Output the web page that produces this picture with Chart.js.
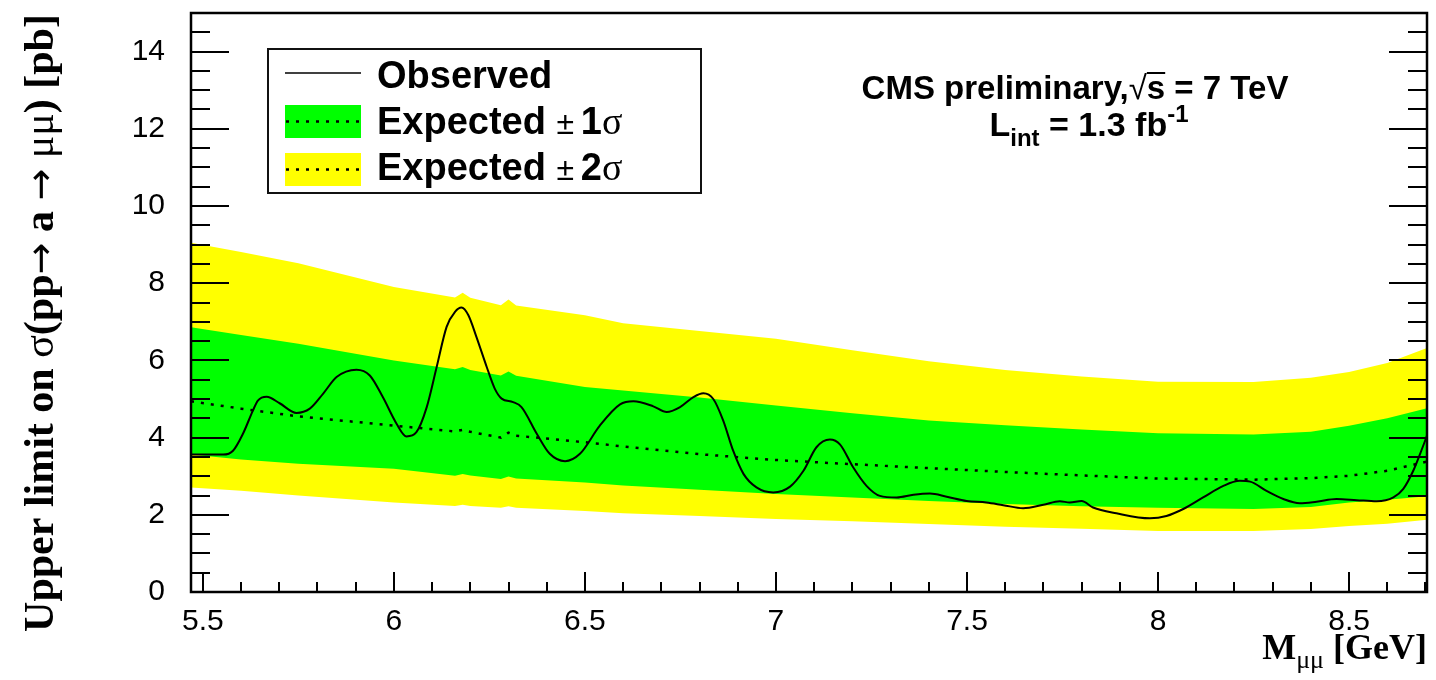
<!DOCTYPE html>
<html>
<head>
<meta charset="utf-8">
<script src="https://cdn.jsdelivr.net/npm/chart.js@4"></script>
<style>
  html, body { margin: 0; padding: 0; background: #fff; }
  #wrap { width: 1436px; height: 680px; }
</style>
</head>
<body>
<div id="wrap"><canvas id="limitChart" width="1436" height="680"></canvas></div>
<script>
const bandX = [5.469, 5.6, 5.75, 6.0, 6.16, 6.18, 6.2, 6.28, 6.3, 6.32, 6.5, 6.6, 6.8, 7.0, 7.2, 7.4, 7.6, 7.8, 8.0, 8.25, 8.4, 8.5, 8.6, 8.704];
const up2 = [9.05, 8.81, 8.52, 7.90, 7.63, 7.75, 7.62, 7.43, 7.58, 7.42, 7.17, 6.96, 6.76, 6.56, 6.26, 5.98, 5.75, 5.58, 5.45, 5.44, 5.55, 5.70, 5.93, 6.32];
const up1 = [6.86, 6.66, 6.43, 6.00, 5.77, 5.83, 5.75, 5.61, 5.71, 5.60, 5.31, 5.22, 5.04, 4.83, 4.63, 4.44, 4.32, 4.21, 4.11, 4.08, 4.15, 4.31, 4.50, 4.76];
const median = [4.94, 4.75, 4.55, 4.31, 4.16, 4.20, 4.15, 4.00, 4.13, 4.05, 3.88, 3.77, 3.57, 3.42, 3.31, 3.21, 3.11, 3.02, 2.94, 2.91, 2.95, 3.01, 3.14, 3.38];
const dn1 = [3.56, 3.43, 3.32, 3.19, 3.01, 3.06, 3.02, 2.93, 2.99, 2.94, 2.84, 2.76, 2.65, 2.54, 2.45, 2.36, 2.28, 2.22, 2.18, 2.15, 2.20, 2.32, 2.39, 2.48];
const dn2 = [2.71, 2.62, 2.50, 2.32, 2.23, 2.26, 2.23, 2.18, 2.22, 2.18, 2.10, 2.04, 1.97, 1.89, 1.83, 1.76, 1.69, 1.64, 1.58, 1.58, 1.63, 1.71, 1.77, 1.87];

// observed limit
const obsX = [5.466, 5.553, 5.579, 5.605, 5.631, 5.644, 5.667, 5.701, 5.745, 5.78, 5.815, 5.85, 5.902, 5.937, 5.971,
  6.007, 6.033, 6.059, 6.086, 6.112, 6.138, 6.16, 6.177, 6.195, 6.216, 6.243, 6.264, 6.282, 6.312, 6.334,
  6.374, 6.408, 6.448, 6.487, 6.539, 6.592, 6.627, 6.679, 6.714, 6.749, 6.784, 6.81, 6.836, 6.862, 6.888,
  6.915, 6.949, 6.993, 7.037, 7.072, 7.106, 7.141, 7.168, 7.202, 7.237, 7.272, 7.316, 7.36, 7.403, 7.447,
  7.499, 7.551, 7.595, 7.647, 7.70, 7.743, 7.769, 7.80, 7.83, 7.891, 7.979, 8.022, 8.066, 8.118, 8.171,
  8.214, 8.241, 8.284, 8.328, 8.371, 8.415, 8.467, 8.52, 8.572, 8.616, 8.642, 8.668, 8.686, 8.704];
const obsY = [3.56, 3.56, 3.66, 4.10, 4.70, 4.96, 5.06, 4.89, 4.64, 4.75, 5.14, 5.57, 5.76, 5.61, 5.05,
  4.36, 4.03, 4.14, 4.79, 5.83, 6.87, 7.26, 7.37, 7.17, 6.61, 5.83, 5.27, 5.01, 4.92, 4.79,
  4.10, 3.58, 3.39, 3.58, 4.31, 4.86, 4.94, 4.81, 4.66, 4.79, 5.05, 5.15, 5.00, 4.44, 3.66,
  3.06, 2.71, 2.58, 2.73, 3.14, 3.75, 3.95, 3.82, 3.23, 2.75, 2.49, 2.45, 2.52, 2.55, 2.47,
  2.36, 2.32, 2.25, 2.17, 2.26, 2.35, 2.32, 2.36, 2.19, 2.04, 1.91, 1.97, 2.15, 2.45, 2.75,
  2.88, 2.86, 2.62, 2.41, 2.30, 2.34, 2.41, 2.38, 2.35, 2.45, 2.67, 3.14, 3.58, 4.05];

const xTicks = [5.5, 6, 6.5, 7, 7.5, 8, 8.5];
const yTicks = [0, 2, 4, 6, 8, 10, 12, 14];

const YELLOW = '#ffff00';
const GREEN = '#00ff00';
const SANS = '"Liberation Sans", Arial, Helvetica, sans-serif';
const SERIF = '"Liberation Serif", "Times New Roman", serif';
const DOTS = [3, 7];

const pts = (xs, ys) => xs.map((x, i) => ({ x: x, y: ys[i] }));

// draw a list of text pieces one after another
function drawRuns(ctx, runs, x, y, align) {
    let total = 0;
    runs.forEach(r => { ctx.font = r.font; r.w = ctx.measureText(r.t).width; total += r.w; });
    let cx = align === 'center' ? x - total / 2 : align === 'right' ? x - total : x;
    ctx.textAlign = 'left';
    ctx.textBaseline = 'alphabetic';
    runs.forEach(r => {
        ctx.font = r.font;
        ctx.fillText(r.t, cx, y + (r.dy || 0));
        if (r.over) {
            ctx.lineWidth = 2;
            ctx.beginPath();
            ctx.moveTo(cx, y + r.over);
            ctx.lineTo(cx + r.w, y + r.over);
            ctx.stroke();
        }
        cx += r.w;
    });
}

const rootStyle = {
    id: 'rootStyle',
    afterDatasetsDraw(chart) {
        const ctx = chart.ctx;
        const a = chart.chartArea;
        const xs = chart.scales.x, ys = chart.scales.y;
        ctx.save();
        ctx.strokeStyle = '#000';
        ctx.lineWidth = 2;
        ctx.beginPath();
        // y ticks, both sides, every 0.5, major every 2
        for (let v = 0; v <= 15.001; v += 0.5) {
            const py = Math.round(ys.getPixelForValue(v));
            const len = Math.abs(v % 2) < 1e-6 ? 38 : 19;
            ctx.moveTo(a.left, py); ctx.lineTo(a.left + len, py);
            ctx.moveTo(a.right, py); ctx.lineTo(a.right - len, py);
        }
        // x ticks every 0.1, major every 0.5
        for (let i = 55; i <= 87; i++) {
            const v = i / 10;
            const px = Math.round(xs.getPixelForValue(v));
            const len = i % 5 === 0 ? 20 : 10;
            ctx.moveTo(px, a.bottom); ctx.lineTo(px, a.bottom - len);
        }
        ctx.stroke();
        ctx.lineWidth = 2.5;
        ctx.strokeRect(a.left, a.top, a.right - a.left, a.bottom - a.top);
        ctx.restore();
    },
    afterDraw(chart) {
        const ctx = chart.ctx;
        ctx.save();
        ctx.fillStyle = '#000';
        ctx.strokeStyle = '#000';

        // legend
        ctx.lineWidth = 2;
        ctx.strokeStyle = '#111';
        ctx.strokeRect(268, 49, 433, 144);
        ctx.strokeStyle = '#000';
        ctx.lineWidth = 1.6;
        ctx.beginPath(); ctx.moveTo(285, 73); ctx.lineTo(361, 73); ctx.stroke();
        ctx.fillStyle = GREEN; ctx.fillRect(285, 105, 76, 33);
        ctx.fillStyle = YELLOW; ctx.fillRect(285, 153, 76, 33);
        ctx.setLineDash(DOTS);
        ctx.lineWidth = 2.5;
        ctx.beginPath();
        ctx.moveTo(286, 121.5); ctx.lineTo(361, 121.5);
        ctx.moveTo(286, 169.5); ctx.lineTo(361, 169.5);
        ctx.stroke();
        ctx.setLineDash([]);
        ctx.fillStyle = '#000';
        const lb = 'bold 38px ' + SANS;
        drawRuns(ctx, [{ t: 'Observed', font: lb }], 377, 88, 'left');
        ['1', '2'].forEach((n, i) => {
            drawRuns(ctx, [
                { t: 'Expected ', font: lb },
                { t: '\u00b1', font: '32px ' + SANS },
                { t: ' ', font: '24px ' + SANS },
                { t: n, font: lb },
                { t: '\u03c3', font: '38px ' + SERIF }
            ], 377, 134 + i * 46, 'left');
        });

        // CMS label
        const cb = 'bold 33px ' + SANS;
        drawRuns(ctx, [
            { t: 'CMS preliminary,', font: cb },
            { t: '\u221a', font: '33px ' + SANS },
            { t: 's', font: cb, over: -26 },
            { t: ' = 7 TeV', font: cb }
        ], 1075, 99, 'center');
        const lb2 = 'bold 34px ' + SANS, ls2 = 'bold 24px ' + SANS;
        drawRuns(ctx, [
            { t: 'L', font: lb2 },
            { t: 'int', font: ls2, dy: 10 },
            { t: ' = 1.3 fb', font: lb2 },
            { t: '-1', font: ls2, dy: -14 }
        ], 1089, 136, 'center');

        // x axis title
        drawRuns(ctx, [
            { t: 'M', font: 'bold 36px ' + SERIF },
            { t: '\u03bc\u03bc', font: '26px ' + SERIF, dy: 9 },
            { t: ' [GeV]', font: 'bold 36px ' + SERIF }
        ], 1427, 659, 'right');

        // y axis title, rotated
        ctx.translate(53, 323);
        ctx.rotate(-Math.PI / 2);
        const tb = 'bold 42px ' + SERIF, tr = '42px ' + SERIF, ta = '38px "DejaVu Sans"';
        drawRuns(ctx, [
            { t: 'Upper limit on ', font: tb },
            { t: '\u03c3', font: tr },
            { t: '(pp', font: tb },
            { t: '\u2192', font: ta },
            { t: ' a ', font: tb },
            { t: '\u2192', font: ta },
            { t: ' ', font: tb },
            { t: '\u03bc\u03bc', font: tr },
            { t: ') [pb]', font: tb }
        ], 0, 0, 'center');
        ctx.restore();
    }
};

new Chart(document.getElementById('limitChart'), {
    type: 'line',
    data: {
        datasets: [
            { label: 'up2', data: pts(bandX, up2), backgroundColor: YELLOW, borderWidth: 0, fill: '+1', order: 5 },
            { label: 'dn2', data: pts(bandX, dn2), borderWidth: 0, fill: false, order: 6 },
            { label: 'up1', data: pts(bandX, up1), backgroundColor: GREEN, borderWidth: 0, fill: '+1', order: 3 },
            { label: 'dn1', data: pts(bandX, dn1), borderWidth: 0, fill: false, order: 4 },
            { label: 'Expected', data: pts(bandX, median), borderColor: '#000', borderWidth: 2.5, borderDash: DOTS, fill: false, order: 1 },
            { label: 'Observed', data: pts(obsX, obsY), borderColor: '#000', borderWidth: 2, fill: false, cubicInterpolationMode: 'monotone', order: 0 }
        ]
    },
    options: {
        responsive: false,
        animation: false,
        devicePixelRatio: 1,
        elements: { point: { radius: 0 }, line: { tension: 0 } },
        layout: { padding: { top: 13, right: 9, left: 0, bottom: 0 } },
        plugins: { legend: { display: false }, tooltip: { enabled: false } },
        scales: {
            x: {
                type: 'linear',
                min: 5.469,
                max: 8.704,
                afterBuildTicks: s => { s.ticks = xTicks.map(v => ({ value: v })); },
                afterFit: s => { s.height = 88; s.paddingLeft = 0; s.paddingRight = 0; },
                grid: { display: false, drawTicks: false },
                border: { display: false },
                ticks: { color: '#000', padding: 12, font: { family: SANS, size: 30 }, maxRotation: 0, autoSkip: false,
                    callback: v => String(v) }
            },
            y: {
                min: 0,
                max: 15,
                afterBuildTicks: s => { s.ticks = yTicks.map(v => ({ value: v })); },
                afterFit: s => { s.width = 191; s.paddingTop = 0; s.paddingBottom = 0; },
                grid: { display: false, drawTicks: false },
                border: { display: false },
                ticks: { color: '#000', padding: 26, font: { family: SANS, size: 30 }, autoSkip: false,
                    callback: v => String(v) }
            }
        }
    },
    plugins: [rootStyle]
});
</script>
</body>
</html>
